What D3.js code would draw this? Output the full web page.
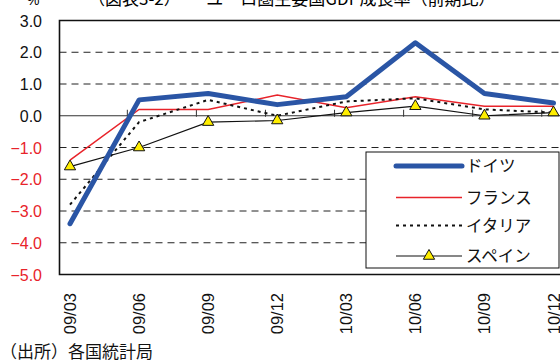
<!DOCTYPE html>
<html><head><meta charset="utf-8">
<script src="https://cdn.jsdelivr.net/npm/d3@7"></script>
<style>body{margin:0;background:#fff}svg{display:block}</style>
</head><body><svg id="c" width="560" height="364"></svg>
<script>
const categories = ["09/03","09/06","09/09","09/12","10/03","10/06","10/09","10/12"];
const germany = [-3.4, 0.5, 0.7, 0.35, 0.6, 2.3, 0.7, 0.4];
const france  = [-1.4, 0.2, 0.2, 0.65, 0.25, 0.6, 0.3, 0.3];
const italy   = [-2.8, -0.2, 0.5, 0.0, 0.45, 0.55, 0.2, 0.1];
const spain   = [-1.6, -1.0, -0.2, -0.15, 0.1, 0.3, 0.0, 0.1];
const yTicks  = [3, 2, 1, 0, -1, -2, -3, -4, -5];
const seriesNames = ["ドイツ","フランス","イタリア","スペイン"];
const titleText = "（図表3-2）　　ユーロ圏主要国GDP成長率（前期比）";
const sourceText = "（出所）各国統計局";

(function () {
const svg = d3.select("#c");
const JP = "'Noto Sans CJK JP','Liberation Sans',sans-serif";
const LAT = "'Liberation Sans',Arial,sans-serif";
const pL = 59.5, pT = 20.5, pB = 274.5, pR = 575;
const y = d3.scaleLinear().domain([-5, 3]).range([pB, pT]);
const x = d3.scalePoint().domain(categories).range([70, 553.5]);
const step = x.step();

// title (cut off at top, as in the original)
svg.append("text").attr("x", 27).attr("y", 5).attr("font-family", LAT).attr("font-size", 14).text("%");
svg.append("text").attr("x", 88).attr("y", 5).attr("font-family", JP).attr("font-size", 17).text(titleText);

// gridlines
svg.append("g").selectAll("line").data(yTicks.filter(v => v !== 0 && v !== 3 && v !== -5)).join("line")
  .attr("x1", pL).attr("x2", pR).attr("y1", d => y(d)).attr("y2", d => y(d))
  .attr("stroke", "#222").attr("stroke-width", 1).attr("stroke-dasharray", "7,5");
svg.append("line").attr("x1", pL).attr("x2", pR).attr("y1", y(0)).attr("y2", y(0))
  .attr("stroke", "#333").attr("stroke-width", 1);
svg.append("g").selectAll("line").data(categories.slice(0, 7)).join("line")
  .attr("x1", d => x(d) + step * 0.83).attr("x2", d => x(d) + step * 0.83)
  .attr("y1", y(0) - 6).attr("y2", y(0) + 1).attr("stroke", "#333").attr("stroke-width", 1);
svg.append("path").attr("d", `M${pR},${pT}H${pL}V${pB}H${pR}`)
  .attr("fill", "none").attr("stroke", "#111").attr("stroke-width", 1.6);

// y axis labels
svg.append("g").selectAll("text").data(yTicks).join("text")
  .attr("x", 42).attr("y", d => y(d) + 6).attr("text-anchor", "end")
  .attr("font-family", LAT).attr("font-size", 16)
  .attr("fill", d => d < 0 ? "#e8232a" : "#111")
  .text(d => d3.format(".1f")(d));

// x labels
svg.append("g").selectAll("text").data(categories).join("text")
  .attr("transform", d => `translate(${x(d) + 6},293) rotate(-90)`)
  .attr("text-anchor", "end").attr("font-family", LAT).attr("font-size", 16.5).attr("fill", "#111")
  .text(d => d);

const line = d3.line().x((d, i) => x(categories[i])).y(d => y(d));
svg.append("path").attr("d", line(france)).attr("fill", "none").attr("stroke", "#e8232a").attr("stroke-width", 1.5);
svg.append("path").attr("d", line(italy)).attr("fill", "none").attr("stroke", "#111").attr("stroke-width", 2).attr("stroke-dasharray", "3,4");
svg.append("path").attr("d", line(spain)).attr("fill", "none").attr("stroke", "#111").attr("stroke-width", 1.2);
svg.append("path").attr("d", line(germany)).attr("fill", "none").attr("stroke", "#2a55a5").attr("stroke-width", 5).attr("stroke-linecap", "round").attr("stroke-linejoin", "round");
const tri = d3.symbol().type(d3.symbolTriangle).size(55);
svg.append("g").selectAll("path").data(spain).join("path")
  .attr("d", tri).attr("transform", (d, i) => `translate(${x(categories[i])},${y(d)})`)
  .attr("fill", "#ffee00").attr("stroke", "#111").attr("stroke-width", 1);

// legend
svg.append("rect").attr("x", 366).attr("y", 152).attr("width", 193).attr("height", 116)
  .attr("fill", "#fff").attr("stroke", "#111").attr("stroke-width", 1);
const ly = [166, 197.5, 225.5, 256];
const lg = svg.append("g");
lg.append("line").attr("x1", 396).attr("x2", 462).attr("y1", ly[0]).attr("y2", ly[0]).attr("stroke", "#2a55a5").attr("stroke-width", 5).attr("stroke-linecap", "round");
lg.append("line").attr("x1", 396).attr("x2", 462).attr("y1", ly[1]).attr("y2", ly[1]).attr("stroke", "#e8232a").attr("stroke-width", 1.5);
lg.append("line").attr("x1", 396).attr("x2", 462).attr("y1", ly[2]).attr("y2", ly[2]).attr("stroke", "#111").attr("stroke-width", 2).attr("stroke-dasharray", "3,4");
lg.append("line").attr("x1", 396).attr("x2", 462).attr("y1", ly[3]).attr("y2", ly[3]).attr("stroke", "#111").attr("stroke-width", 1.2);
lg.append("path").attr("d", tri).attr("transform", `translate(429,${ly[3]})`).attr("fill", "#ffee00").attr("stroke", "#111");
lg.selectAll("text").data(seriesNames).join("text")
  .attr("x", 466).attr("y", (d, i) => ly[i] + 6).attr("font-family", JP).attr("font-size", 16.5).attr("fill", "#111").text(d => d);

// source
svg.append("text").attr("x", 0).attr("y", 358).attr("font-family", JP).attr("font-size", 17).attr("fill", "#111").text(sourceText);
})();
</script></body></html>
